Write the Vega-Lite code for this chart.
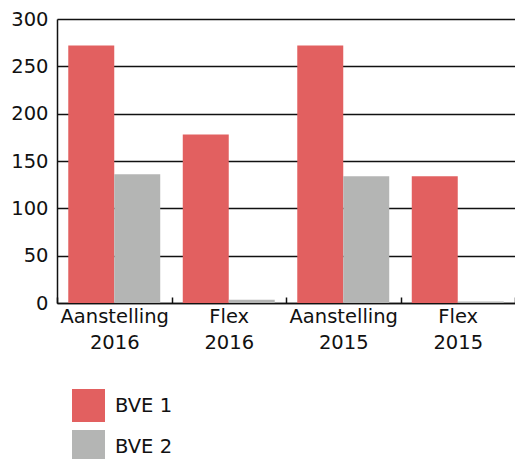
{
  "$schema": "https://vega.github.io/schema/vega-lite/v6.json",
  "width": 458,
  "height": 284,
  "autosize": {"type": "none"},
  "padding": {"left": 57, "top": 19, "right": 0, "bottom": 156},
  "config": {
    "font": "DejaVu Sans",
    "view": {"stroke": null},
    "bar": {"stroke": null, "strokeWidth": 0},
    "axis": {"labelFont": "DejaVu Sans", "labelFontSize": 19.5, "labelColor": "#111"},
    "legend": {"labelFont": "DejaVu Sans", "labelFontSize": 19.5, "labelColor": "#111"}
  },
  "data": {
    "values": [
      {"cat": "Aanstelling 2016", "serie": "BVE 1", "value": 272},
      {"cat": "Aanstelling 2016", "serie": "BVE 2", "value": 136},
      {"cat": "Flex 2016", "serie": "BVE 1", "value": 178},
      {"cat": "Flex 2016", "serie": "BVE 2", "value": 3.5},
      {"cat": "Aanstelling 2015", "serie": "BVE 1", "value": 272},
      {"cat": "Aanstelling 2015", "serie": "BVE 2", "value": 134},
      {"cat": "Flex 2015", "serie": "BVE 1", "value": 134},
      {"cat": "Flex 2015", "serie": "BVE 2", "value": 1.5}
    ]
  },
  "mark": {"type": "bar"},
  "encoding": {
    "x": {
      "field": "cat",
      "type": "nominal",
      "sort": null,
      "scale": {"paddingInner": 0, "paddingOuter": 0},
      "axis": {
        "title": null,
        "labelAngle": 0,
        "labelExpr": "split(datum.label, ' ')",
        "labelLineHeight": 26,
        "labelPadding": 6,
        "labelBaseline": "line-top",
        "tickBand": "extent",
        "tickSize": -6,
        "tickColor": "#111",
        "tickWidth": 1.5,
        "domainColor": "#111",
        "domainWidth": 1.5
      }
    },
    "xOffset": {
      "field": "serie",
      "type": "nominal",
      "scale": {"paddingInner": 0, "paddingOuter": 0.245}
    },
    "y": {
      "field": "value",
      "type": "quantitative",
      "scale": {"domain": [0, 300], "nice": false},
      "axis": {
        "title": null,
        "values": [0, 50, 100, 150, 200, 250, 300],
        "ticks": false,
        "labelPadding": 9,
        "gridColor": "#111",
        "gridWidth": 1.5,
        "gridOpacity": 1,
        "domainColor": "#111",
        "domainWidth": 1.5
      }
    },
    "color": {
      "field": "serie",
      "type": "nominal",
      "scale": {"domain": ["BVE 1", "BVE 2"], "range": ["#E26060", "#B4B5B4"]},
      "legend": {
        "title": null,
        "orient": "none",
        "legendX": 15,
        "legendY": 370,
        "padding": 0,
        "symbolType": "square",
        "symbolSize": 1089,
        "symbolStrokeWidth": 0,
        "symbolOpacity": 1,
        "rowPadding": 8,
        "labelOffset": 10,
        "direction": "vertical"
      }
    }
  }
}
